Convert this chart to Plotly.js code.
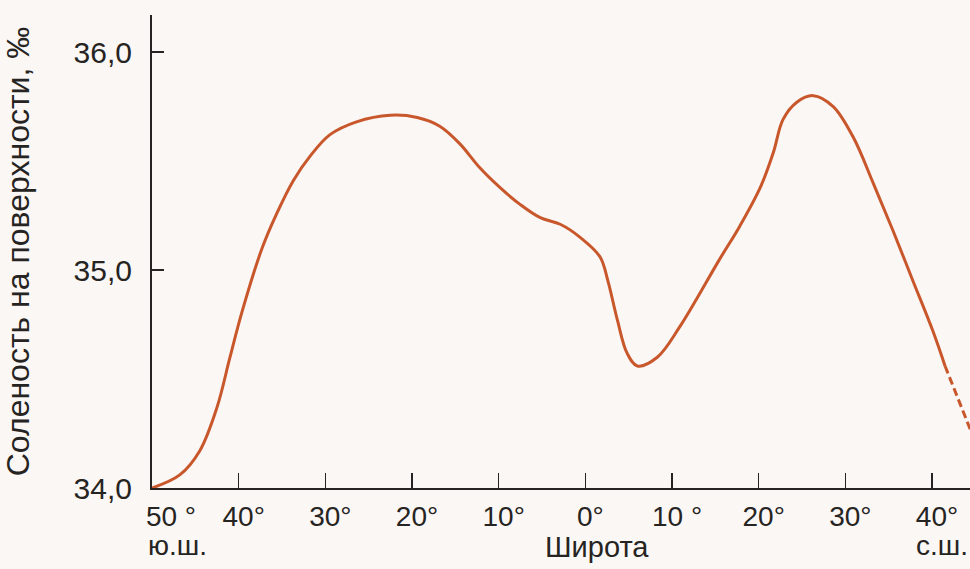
<!DOCTYPE html>
<html>
<head>
<meta charset="utf-8">
<script src="https://cdn.plot.ly/plotly-3.0.1.min.js"></script>
<style>
html,body{margin:0;padding:0;background:#fbf7f5;}
#chart{width:970px;height:569px;}
</style>
</head>
<body>
<div id="chart"></div>
<script>
// Latitude (south negative, north positive), degrees
const latitude = [-50, -46.8, -44.5, -42.5, -41.0, -39.6, -37.3, -35.6, -33.7, -31.8, -29.5, -26.4, -22.5, -19.4, -16.8, -14.5, -12.2, -9.9, -7.5, -5.2, -2.9, -0.6, 1.7, 2.6, 3.7, 4.8, 6.0, 8.3, 10.9, 15.5, 17.8, 20.2, 21.7, 22.8, 24.4, 26.3, 28.6, 30.9, 33.2, 35.5, 37.8, 40.1, 41.5];
// Surface salinity, per mille
const salinity = [34.00, 34.06, 34.17, 34.37, 34.60, 34.81, 35.10, 35.26, 35.41, 35.52, 35.62, 35.68, 35.71, 35.70, 35.66, 35.58, 35.47, 35.38, 35.30, 35.24, 35.21, 35.15, 35.06, 34.95, 34.77, 34.62, 34.56, 34.60, 34.74, 35.05, 35.20, 35.38, 35.54, 35.69, 35.77, 35.80, 35.75, 35.61, 35.40, 35.18, 34.95, 34.72, 34.56];
// Uncertain (dashed) continuation
const latitudeDashed = [41.5, 44.4];
const salinityDashed = [34.56, 34.27];

const xTickVals = [-50, -40, -30, -20, -10, 0, 10, 20, 30, 40];
const xTickText = ["\u2002\u200250 °", "40°", "30°", "20°", "10°", "0°", "10 °", "20°", "30°", "40°"];
const yTickVals = [34, 35, 36];
const yTickText = ["34,0", "35,0", "36,0"];

const lineColor = "#c9572c";
const ink = "#262422";
const fontFam = "Liberation Sans, Arial, Helvetica, sans-serif";

const traces = [
  {x: latitude, y: salinity, type: "scatter", mode: "lines",
   line: {color: lineColor, width: 3, shape: "spline", smoothing: 1}, hoverinfo: "skip", showlegend: false},
  {x: latitudeDashed, y: salinityDashed, type: "scatter", mode: "lines",
   line: {color: lineColor, width: 3, dash: "8px,4px"}, hoverinfo: "skip", showlegend: false}
];

const layout = {
  width: 970, height: 569,
  paper_bgcolor: "#fbf7f5", plot_bgcolor: "#fbf7f5",
  margin: {l: 152, r: 0, t: 15, b: 81},
  font: {family: fontFam, color: ink, size: 28},
  showlegend: false,
  xaxis: {
    range: [-50, 44.38], tickmode: "array", tickvals: xTickVals, ticktext: xTickText,
    showline: true, linecolor: ink, linewidth: 2, mirror: false,
    ticks: "inside", ticklen: 15, tickwidth: 1.5, tickcolor: ink,
    showgrid: false, zeroline: false, fixedrange: true,
    tickfont: {size: 28, family: fontFam, color: ink}, ticklabelstandoff: 2, ticklabelshift: 5
  },
  yaxis: {
    range: [34, 36.17], tickmode: "array", tickvals: yTickVals, ticktext: yTickText,
    showline: true, linecolor: ink, linewidth: 2,
    ticks: "inside", ticklen: 12, tickwidth: 1.5, tickcolor: ink,
    showgrid: false, zeroline: false, fixedrange: true,
    tickfont: {size: 30, family: fontFam, color: ink}, ticklabelstandoff: 12,
    title: {text: "Соленость на поверхности, ‰", font: {size: 32, family: fontFam, color: ink}, standoff: 34}
  },
  annotations: [
    {xref: "x", yref: "paper", x: -50, y: 0, yshift: -57, text: "ю.ш.", showarrow: false,
     xanchor: "center", yanchor: "middle", xshift: 25, font: {size: 28, family: fontFam, color: ink}},
    {xref: "x", yref: "paper", x: 40, y: 0, yshift: -57, text: "с.ш.", showarrow: false,
     xanchor: "center", yanchor: "middle", xshift: 10, font: {size: 28, family: fontFam, color: ink}},
    {xref: "paper", yref: "paper", x: 0.544, y: 0, yshift: -59, text: "Широта", showarrow: false,
     xanchor: "center", yanchor: "middle", font: {size: 29, family: fontFam, color: ink}}
  ]
};

Plotly.newPlot("chart", traces, layout, {displayModeBar: false, staticPlot: true});
</script>
</body>
</html>
